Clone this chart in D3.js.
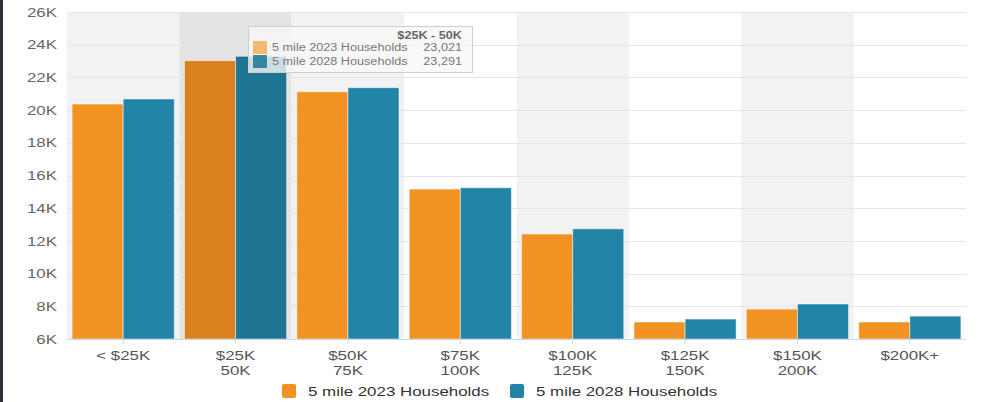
<!DOCTYPE html>
<html>
<head>
<meta charset="utf-8">
<script src="https://cdn.jsdelivr.net/npm/d3@7/dist/d3.min.js"></script>
<style>
  html, body { margin: 0; padding: 0; background: #fff; }
  svg { display: block; font-family: "Liberation Sans", Arial, Helvetica, sans-serif; }
</style>
</head>
<body>
<svg id="chart" width="982" height="402"></svg>
<script>
// Household income distribution, 5 mile radius
const categories = ["< $25K", "$25K - 50K", "$50K - 75K", "$75K - 100K", "$100K - 125K", "$125K - 150K", "$150K - 200K", "$200K+"];
const categoryLines = [["< $25K"], ["$25K", "50K"], ["$50K", "75K"], ["$75K", "100K"], ["$100K", "125K"], ["$125K", "150K"], ["$150K", "200K"], ["$200K+"]];
const seriesNames = ["5 mile 2023 Households", "5 mile 2028 Households"];
const households2023 = [20370, 23021, 21120, 15170, 12420, 7040, 7830, 7040];
const households2028 = [20680, 23291, 21370, 15250, 12740, 7220, 8140, 7400];
const yTicks = [6000, 8000, 10000, 12000, 14000, 16000, 18000, 20000, 22000, 24000, 26000];
const hoverIndex = 1;

const colors = ["#f29222", "#2284a6"];
const hoverColors = ["#d8811e", "#1e7592"];

// wide horizontal rendering of the label type
const SX = 1.3;
const TIP_SX = 1.15;

const svg = d3.select("#chart");
const W = 982, H = 402;
const m = { left: 67, right: 16, top: 12, bottom: 63 };
const x0 = m.left, x1 = W - m.right, yTop = m.top, yBot = H - m.bottom;

// places a text node at (px, py) with horizontal stretch
function label(g, px, py, str, sx) {
  return g.append("text")
    .attr("transform", `translate(${px},${py}) scale(${sx},1)`)
    .text(str);
}

// left frame strip
svg.append("rect").attr("x", 0).attr("y", 0).attr("width", 3).attr("height", H).attr("fill", "#2b3038");

const x = d3.scaleBand().domain(categories).range([x0, x1]).padding(0);
const xs = d3.scaleBand().domain(seriesNames).range([0, x.bandwidth()]).paddingInner(0).paddingOuter(0.1);
const y = d3.scaleLinear().domain([6000, 26000]).range([yBot, yTop]);

// alternating column bands
svg.append("g").selectAll("rect").data(categories).join("rect")
  .attr("x", d => x(d)).attr("y", yTop)
  .attr("width", x.bandwidth()).attr("height", yBot - yTop)
  .attr("fill", (d, i) => i === hoverIndex ? "#e4e4e4" : (i % 2 === 0 ? "#f2f2f2" : "none"));

// gridlines
svg.append("g").selectAll("line").data(yTicks.slice(1)).join("line")
  .attr("x1", x0).attr("x2", x1)
  .attr("y1", d => Math.round(y(d)) + 0.5).attr("y2", d => Math.round(y(d)) + 0.5)
  .attr("stroke", "#e6e6e6").attr("stroke-width", 1);

// y axis labels
const yAxis = d3.axisLeft(y).tickValues(yTicks).tickSize(0).tickPadding(10 / SX)
  .tickFormat(d => (d / 1000) + "K");
const gy = svg.append("g").attr("transform", `translate(${x0},0)`).call(yAxis);
gy.select(".domain").remove();
gy.selectAll("text").attr("fill", "#666").attr("font-size", 13)
  .attr("font-family", "Liberation Sans, Arial, sans-serif")
  .attr("transform", `scale(${SX},1)`);

// bars
const seriesData = [households2023, households2028];
seriesData.forEach((vals, s) => {
  svg.append("g").selectAll("rect").data(vals).join("rect")
    .attr("x", (d, i) => x(categories[i]) + xs(seriesNames[s]))
    .attr("y", d => y(d))
    .attr("width", xs.bandwidth())
    .attr("height", d => yBot - y(d))
    .attr("fill", (d, i) => i === hoverIndex ? hoverColors[s] : colors[s])
    .attr("stroke", "rgba(255,255,255,0.5)").attr("stroke-width", 1);
});

// x axis
const xAxis = d3.axisBottom(x).tickSize(5).tickFormat("");
const gx = svg.append("g").attr("transform", `translate(0,${yBot})`).call(xAxis);
gx.select(".domain").attr("stroke", "#ccd6eb").attr("d", `M${x0},0.5H${x1}`);
gx.selectAll(".tick line").attr("stroke", "#ccd6eb");

const xl = svg.append("g").attr("fill", "#555").attr("font-size", 13).attr("text-anchor", "middle");
categories.forEach((c, i) => {
  const cx = x(c) + x.bandwidth() / 2;
  categoryLines[i].forEach((ln, k) => {
    label(xl, cx, yBot + 21 + k * 15, ln, SX);
  });
});

// legend
const legend = svg.append("g").attr("fill", "#333").attr("font-size", 13);
const legendX = [282, 510];
seriesNames.forEach((n, s) => {
  legend.append("rect").attr("x", legendX[s]).attr("y", 384).attr("width", 14).attr("height", 14)
    .attr("rx", 2).attr("fill", colors[s]);
  label(legend, legendX[s] + 26, 396, n, SX);
});

// tooltip for the highlighted column
const tip = svg.append("g").attr("transform", "translate(248,26)");
tip.append("rect").attr("x", 0.5).attr("y", 0.5).attr("width", 224).attr("height", 46)
  .attr("fill", "rgba(247,247,247,0.8)").attr("stroke", "#cfcfcf").attr("stroke-width", 1);
label(tip, 214, 13, categories[hoverIndex], TIP_SX)
  .attr("text-anchor", "end").attr("font-size", 11).attr("font-weight", "bold").attr("fill", "#666");
const tipSwatch = ["rgba(242,146,34,0.6)", "rgba(30,117,146,0.85)"];
const fmt = d3.format(",");
seriesNames.forEach((n, s) => {
  const yy = 15 + s * 14;
  tip.append("rect").attr("x", 5).attr("y", yy).attr("width", 14).attr("height", 13).attr("fill", tipSwatch[s]);
  label(tip, 24, yy + 10, n, TIP_SX).attr("font-size", 11).attr("fill", "#777");
  label(tip, 214, yy + 10, fmt(seriesData[s][hoverIndex]), TIP_SX)
    .attr("text-anchor", "end").attr("font-size", 11).attr("fill", "#777");
});
</script>
</body>
</html>
